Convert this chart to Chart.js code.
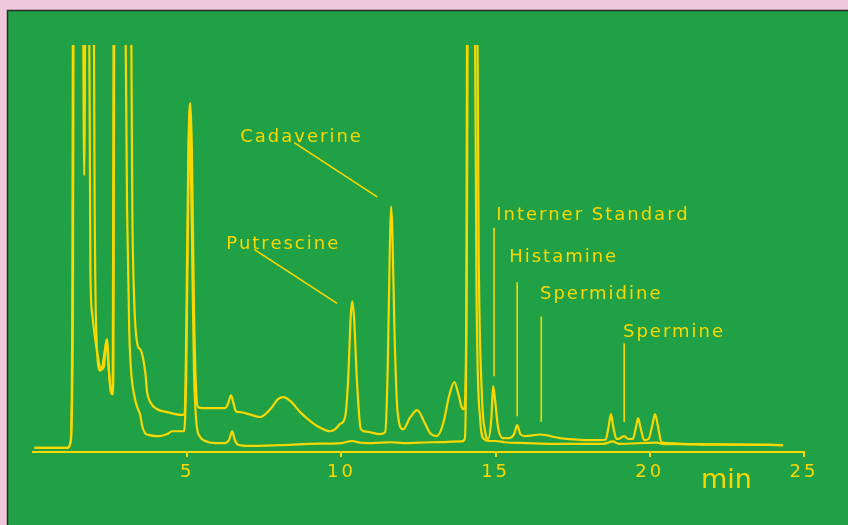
<!DOCTYPE html>
<html>
<head>
<meta charset="utf-8">
<script src="https://cdn.jsdelivr.net/npm/chart.js@4"></script>
<style>
  html, body { margin: 0; padding: 0; background: #f0c8dc; }
  canvas { display: block; }
</style>
</head>
<body>
<canvas id="chrom" width="848" height="525"></canvas>
<script>
// Chromatogramm: Zeit (min) / Signal (relative Einheiten, 100 = Skalenende)
const upperTrace = [
  [0.05, 1.0], [1.12, 1.0], [1.22, 2.5], [1.29, 30], [1.33, 140], [1.60, 140], [1.66, 68], [1.72, 140],
  [1.95, 140], [2.00, 60], [2.05, 30], [2.18, 20], [2.25, 21], [2.35, 26], [2.41, 27.7], [2.46, 20],
  [2.55, 14.5], [2.60, 14.2], [2.65, 140], [3.15, 140], [3.22, 60], [3.28, 37.5], [3.40, 26], [3.48, 25.2],
  [3.64, 19.6], [3.70, 14.7], [3.80, 12.3], [4.03, 10.5], [4.35, 9.8], [4.87, 9.1], [4.92, 9.6], [4.97, 30],
  [5.04, 75], [5.10, 85.8], [5.15, 75], [5.22, 35], [5.30, 13.7], [5.36, 11.0], [5.50, 10.8], [6.23, 10.8],
  [6.33, 12], [6.42, 13.9], [6.50, 12], [6.58, 10.0], [6.72, 9.8], [7.00, 9.3], [7.37, 8.6], [7.69, 10.5],
  [7.95, 13], [8.12, 13.5], [8.35, 12.5], [8.66, 9.8], [8.99, 7.6], [9.30, 6.0], [9.64, 5.1], [9.80, 5.6],
  [9.96, 6.9], [10.12, 8.6], [10.22, 18], [10.30, 33], [10.35, 37.0], [10.41, 33], [10.50, 18], [10.63, 5.6],
  [10.80, 5.0], [11.26, 4.4], [11.42, 4.9], [11.50, 20], [11.57, 50], [11.61, 60.3], [11.65, 55], [11.72, 30],
  [11.82, 10], [12.00, 5.6], [12.23, 8.5], [12.46, 10.3], [12.68, 7.5], [12.90, 4.4], [13.10, 3.9], [13.30, 7],
  [13.50, 14], [13.66, 17.2], [13.80, 14], [13.90, 11], [13.98, 10.5], [14.06, 40], [14.12, 140], [14.38, 140],
  [14.45, 50], [14.55, 15], [14.66, 5], [14.76, 3.2], [14.86, 8], [14.92, 16.2], [14.98, 13], [15.08, 6],
  [15.24, 3.4], [15.45, 3.4], [15.60, 4.4], [15.70, 6.6], [15.80, 4.4], [15.96, 3.9], [16.44, 4.3], [17.09, 3.4],
  [17.74, 3.0], [18.39, 2.9], [18.56, 3.0], [18.66, 6], [18.74, 9.3], [18.82, 6], [18.92, 3.2], [19.04, 3.4],
  [19.17, 3.9], [19.30, 3.2], [19.45, 3.2], [19.55, 6], [19.62, 8.3], [19.70, 6], [19.82, 2.9], [19.96, 3.2],
  [20.08, 6.5], [20.17, 9.3], [20.26, 6.5], [20.38, 2.4], [20.60, 2.2], [21.00, 2.0], [22.00, 1.9], [23.00, 1.8],
  [24.32, 1.7]
];

const lowerTrace = [
  [0.05, 1.0], [1.12, 1.0], [1.22, 2.5], [1.27, 30], [1.31, 140], [1.80, 140], [1.86, 45], [1.92, 34],
  [2.05, 26], [2.22, 20.3], [2.30, 21], [2.38, 27.7],
  [2.44, 22], [2.52, 15], [2.58, 14.2], [2.63, 140], [2.95, 140], [3.05, 60], [3.12, 30], [3.18, 20],
  [3.28, 14], [3.38, 11], [3.48, 9.0], [3.54, 6.4], [3.64, 4.6], [3.74, 4.2], [4.03, 3.9], [4.12, 3.9],
  [4.35, 4.4], [4.51, 5.1], [4.77, 5.1], [4.90, 5.1], [4.97, 20], [5.03, 60], [5.08, 84], [5.14, 60],
  [5.22, 20], [5.30, 7], [5.42, 3.7], [5.58, 2.7], [5.91, 2.2], [6.23, 2.2], [6.36, 3], [6.46, 5.1],
  [6.54, 3], [6.65, 1.8], [7.0, 1.5], [8.0, 1.7], [9.0, 2.0], [10.0, 2.2], [10.35, 2.7], [10.6, 2.3],
  [11.0, 2.2], [11.6, 2.4], [12.0, 2.2], [13.0, 2.4], [13.9, 2.6], [14.00, 3.2], [14.05, 30], [14.09, 140],
  [14.30, 140], [14.38, 40], [14.50, 8], [14.62, 3.2], [14.80, 2.7], [15.0, 2.7], [15.3, 2.4], [16.0, 2.2],
  [17.0, 2.0], [18.5, 2.0], [18.8, 2.6], [19.0, 2.0], [20.2, 2.3], [20.5, 1.9], [21.0, 1.9], [22.0, 1.8],
  [23.0, 1.8], [24.32, 1.7]
];

const tickValues = [5, 10, 15, 20, 25];
const axisUnit = "min";

// Peak-Beschriftungen
const peakNames = ["Cadaverine", "Putrescine", "Interner Standard", "Histamine", "Spermidine", "Spermine"];
const peakTextAt = [[6.72, 76.2], [6.27, 50.0], [15.02, 56.9], [15.44, 46.8], [16.44, 37.5], [19.13, 28.2]];
const peakMarkers = [
  [8.47, 76.0, 11.16, 62.7],
  [7.17, 49.8, 9.86, 36.5],
  [14.95, 55.1, 14.95, 18.6],
  [15.70, 41.7, 15.70, 8.8],
  [16.48, 33.3, 16.48, 7.4],
  [19.17, 26.7, 19.17, 7.4]
];

const YELLOW = "#f8d800";
const GREEN = "#21a146";
const PINK = "#f0c8dc";
const FONT = "'DejaVu Sans', sans-serif";

const panel = {
  id: "panel",
  beforeDraw(chart) {
    const ctx = chart.ctx;
    ctx.save();
    ctx.fillStyle = PINK;
    ctx.fillRect(0, 0, chart.width, chart.height);
    ctx.fillStyle = GREEN;
    ctx.fillRect(7, 10, chart.width - 7, chart.height - 10);
    ctx.strokeStyle = "#2a2a2a";
    ctx.lineWidth = 1.5;
    ctx.beginPath();
    ctx.moveTo(7.5, chart.height);
    ctx.lineTo(7.5, 10.5);
    ctx.lineTo(chart.width, 10.5);
    ctx.stroke();
    ctx.restore();
    ctx.letterSpacing = "3px";
  }
};

const labels = {
  id: "labels",
  afterDraw(chart) {
    const ctx = chart.ctx;
    const xs = chart.scales.x, ys = chart.scales.y;
    ctx.save();
    ctx.strokeStyle = YELLOW;
    ctx.fillStyle = YELLOW;
    ctx.lineWidth = 1.6;
    peakMarkers.forEach(m => {
      ctx.beginPath();
      ctx.moveTo(xs.getPixelForValue(m[0]), ys.getPixelForValue(m[1]));
      ctx.lineTo(xs.getPixelForValue(m[2]), ys.getPixelForValue(m[3]));
      ctx.stroke();
    });
    ctx.font = "18px " + FONT;
    ctx.letterSpacing = "2px";
    ctx.textAlign = "left";
    ctx.textBaseline = "alphabetic";
    peakNames.forEach((name, i) => {
      ctx.fillText(name, xs.getPixelForValue(peakTextAt[i][0]), ys.getPixelForValue(peakTextAt[i][1]));
    });
    ctx.font = "27px " + FONT;
    ctx.letterSpacing = "0px";
    ctx.fillText(axisUnit, xs.getPixelForValue(21.66), chart.chartArea.bottom + 36);
    ctx.restore();
  }
};

const traceStyle = {
  borderColor: YELLOW,
  borderWidth: 2.2,
  pointRadius: 0,
  fill: false,
  cubicInterpolationMode: "monotone"
};

new Chart(document.getElementById("chrom"), {
  type: "line",
  data: {
    datasets: [
      { ...traceStyle, label: "Probe", data: upperTrace.map(p => ({ x: p[0], y: p[1] })) },
      { ...traceStyle, label: "Standard", data: lowerTrace.map(p => ({ x: p[0], y: p[1] })) }
    ]
  },
  options: {
    responsive: false,
    devicePixelRatio: 1,
    animation: false,
    layout: { padding: { left: 33, right: 44, top: 45, bottom: 0 } },
    plugins: { legend: { display: false }, tooltip: { enabled: false } },
    scales: {
      x: {
        type: "linear",
        min: 0,
        max: 25,
        afterBuildTicks: s => { s.ticks = tickValues.map(v => ({ value: v })); },
        afterFit: s => { s.height = 73; },
        grid: { drawOnChartArea: false, drawTicks: true, tickLength: 5, color: YELLOW, lineWidth: 2 },
        border: { display: true, color: YELLOW, width: 2 },
        ticks: {
          color: YELLOW,
          font: { family: FONT, size: 18 },
          padding: 5,
          autoSkip: false,
          maxRotation: 0
        }
      },
      y: { display: false, min: 0, max: 100 }
    }
  },
  plugins: [panel, labels]
});
</script>
</body>
</html>
